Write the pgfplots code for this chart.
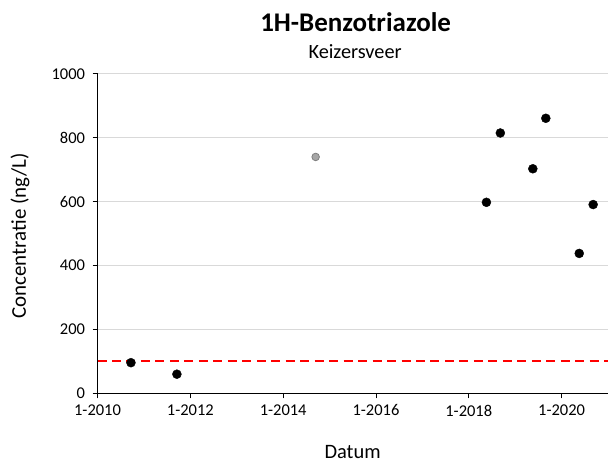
\documentclass[border=0pt]{standalone}
\usepackage{fontspec}
\setmainfont{Carlito}
\usepackage{pgfplots}
\pgfplotsset{compat=1.18}

\definecolor{gridgray}{HTML}{D9D9D9}
\definecolor{ptgray}{HTML}{A6A6A6}
\definecolor{ptedge}{HTML}{7F7F7F}
\definecolor{refline}{HTML}{FF0000}

\begin{document}
\begin{tikzpicture}[x=1pt,y=1pt]
\begin{axis}[
    at={(0,0)}, anchor=south west,
    scale only axis, width=511.3pt, height=320pt,
    xmin=2010, xmax=2021, ymin=0, ymax=1000,
    axis lines=left, axis line style={-, black, line width=0.9pt},
    xtick={2010,2012,2014,2016,2018,2020},
    xticklabels={1-2010,1-2012,1-2014,1-2016,1-2018,1-2020},
    ytick={0,200,400,600,800,1000},
    tick align=outside, tick style={black, line width=0.9pt},
    major tick length=5pt,
    ymajorgrids=true, grid style={gridgray, line width=1pt},
    tick label style={font=\fontsize{16.5}{18}\selectfont},
    /pgf/number format/assume math mode=true,
    /pgf/number format/1000 sep={},
    xticklabel style={yshift=-3pt},
    yticklabel style={xshift=-4pt},
    clip=false,
  ]
\addplot[draw=refline, line width=2pt, dash pattern=on 9pt off 5.5pt, mark=none]
  coordinates {(2010,100) (2021,100)};
\addplot[only marks, mark=*, mark size=4.5pt, mark options={fill=black, draw=black}]
  coordinates {
  (2010.72,96) (2011.71,60)
  (2018.38,598) (2018.68,815) (2019.38,703) (2019.66,861)
  (2020.38,438) (2020.68,591)};
\addplot[only marks, mark=*, mark size=3.8pt, mark options={fill=ptgray, draw=ptedge, line width=0.8pt}]
  coordinates {(2014.70,740)};
\end{axis}
\node[font=\fontsize{27}{30}\selectfont\bfseries] at (258.5pt,372pt) {1H-Benzotriazole};
\node[font=\fontsize{20.3}{23}\selectfont] at (258pt,342.7pt) {Keizersveer};
\node[font=\fontsize{21}{24}\selectfont, rotate=90] at (-77.7pt,157.5pt) {Concentratie (ng/L)};
\node[font=\fontsize{20.5}{23}\selectfont, inner sep=0pt] at (255.5pt,-59pt) {Datum};
\useasboundingbox (-97.7pt,-70pt) rectangle (511.3pt,394pt);
\end{tikzpicture}
\end{document}
